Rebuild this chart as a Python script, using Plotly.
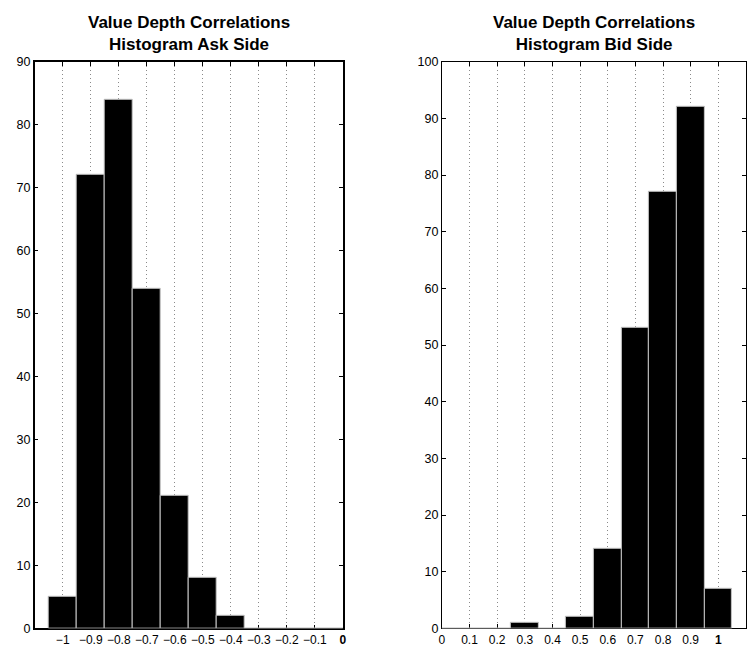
import plotly.graph_objects as go

# Bin centres and counts for the two correlation histograms
ask_centers = [-1.0, -0.9, -0.8, -0.7, -0.6, -0.5, -0.4, -0.3, -0.2, -0.1, 0.0]
ask_counts = [5, 72, 84, 54, 21, 8, 2, 0, 0, 0, 0]
bid_centers = [0.0, 0.1, 0.2, 0.3, 0.4, 0.5, 0.6, 0.7, 0.8, 0.9, 1.0]
bid_counts = [0, 0, 0, 1, 0, 2, 14, 53, 77, 92, 7]

ask_ticks = [-1.0, -0.9, -0.8, -0.7, -0.6, -0.5, -0.4, -0.3, -0.2, -0.1, 0.0]
ask_ticktext = ["\u22121", "\u22120.9", "\u22120.8", "\u22120.7", "\u22120.6", "\u22120.5",
                "\u22120.4", "\u22120.3", "\u22120.2", "\u22120.1", "<b>0</b>"]
bid_ticks = [0.0, 0.1, 0.2, 0.3, 0.4, 0.5, 0.6, 0.7, 0.8, 0.9, 1.0]
bid_ticktext = ["0", "0.1", "0.2", "0.3", "0.4", "0.5", "0.6", "0.7", "0.8", "0.9", "<b>1</b>"]

ask_title = "Value Depth Correlations<br>Histogram Ask Side"
bid_title = "Value Depth Correlations<br>Histogram Bid Side"

BIN_W = 0.1
FONT = "Liberation Sans, Arial, Helvetica, sans-serif"

fig = go.Figure()


def add_hist(centers, counts, xa, ya):
    fig.add_trace(go.Bar(
        x=centers, y=counts, width=BIN_W,
        marker=dict(color="black", line=dict(color="#c4c4c4", width=1)),
        xaxis=xa, yaxis=ya, showlegend=False, hoverinfo="x+y",
    ))
    # baseline drawn by the (partly empty) bins themselves
    lo = centers[0] - BIN_W / 2
    hi = centers[-1] + BIN_W / 2
    fig.add_trace(go.Scatter(
        x=[lo, hi], y=[0, 0], mode="lines",
        line=dict(color="#b0b0b0", width=1),
        xaxis=xa, yaxis=ya, showlegend=False, hoverinfo="skip", cliponaxis=True,
    ))


add_hist(ask_centers, ask_counts, "x", "y")
add_hist(bid_centers, bid_counts, "x2", "y2")

W, H = 751, 650
y_dom = [(H - 635) / H, (H - 56) / H]
left_dom = [32 / W, 343 / W]
right_dom = [443 / W, 750 / W]


def xstyle(lw):
    return dict(
        showline=True, linecolor="black", linewidth=lw, mirror="ticks",
        ticks="inside", ticklen=4, tickcolor="black", tickwidth=1,
        showgrid=True, gridcolor="#8a8a8a", griddash="1px,3px", gridwidth=1,
        zeroline=False, tickfont=dict(family=FONT, size=12, color="black"),
        layer="below traces", tickmode="array", fixedrange=True,
    )


def ystyle(lw):
    return dict(
        showline=True, linecolor="black", linewidth=lw, mirror="ticks",
        ticks="inside", ticklen=4, tickcolor="black", tickwidth=1,
        showgrid=False, zeroline=False,
        tickfont=dict(family=FONT, size=12.5, color="black"),
        layer="below traces", dtick=10, tick0=0, fixedrange=True,
    )


fig.update_layout(
    width=W, height=H,
    margin=dict(l=0, r=0, t=0, b=0),
    paper_bgcolor="white", plot_bgcolor="white",
    bargap=0,
    xaxis=dict(domain=left_dom, range=[-1.1, 0], tickvals=ask_ticks,
               ticktext=ask_ticktext, anchor="y", **xstyle(1.5)),
    yaxis=dict(domain=y_dom, range=[0, 90], anchor="x", **ystyle(1.5)),
    xaxis2=dict(domain=right_dom, range=[0, 1.1], tickvals=bid_ticks,
                ticktext=bid_ticktext, anchor="y2", **xstyle(1)),
    yaxis2=dict(domain=y_dom, range=[0, 100], anchor="x2", **ystyle(1)),
    annotations=[
        dict(text="<b>" + ask_title + "</b>", x=sum(left_dom) / 2, y=y_dom[1],
             xref="paper", yref="paper", xanchor="center", yanchor="bottom",
             yshift=6, showarrow=False,
             font=dict(family=FONT, size=17, color="black")),
        dict(text="<b>" + bid_title + "</b>", x=sum(right_dom) / 2, y=y_dom[1],
             xref="paper", yref="paper", xanchor="center", yanchor="bottom",
             yshift=6, showarrow=False,
             font=dict(family=FONT, size=17, color="black")),
    ],
)

fig.write_html("out.html")
